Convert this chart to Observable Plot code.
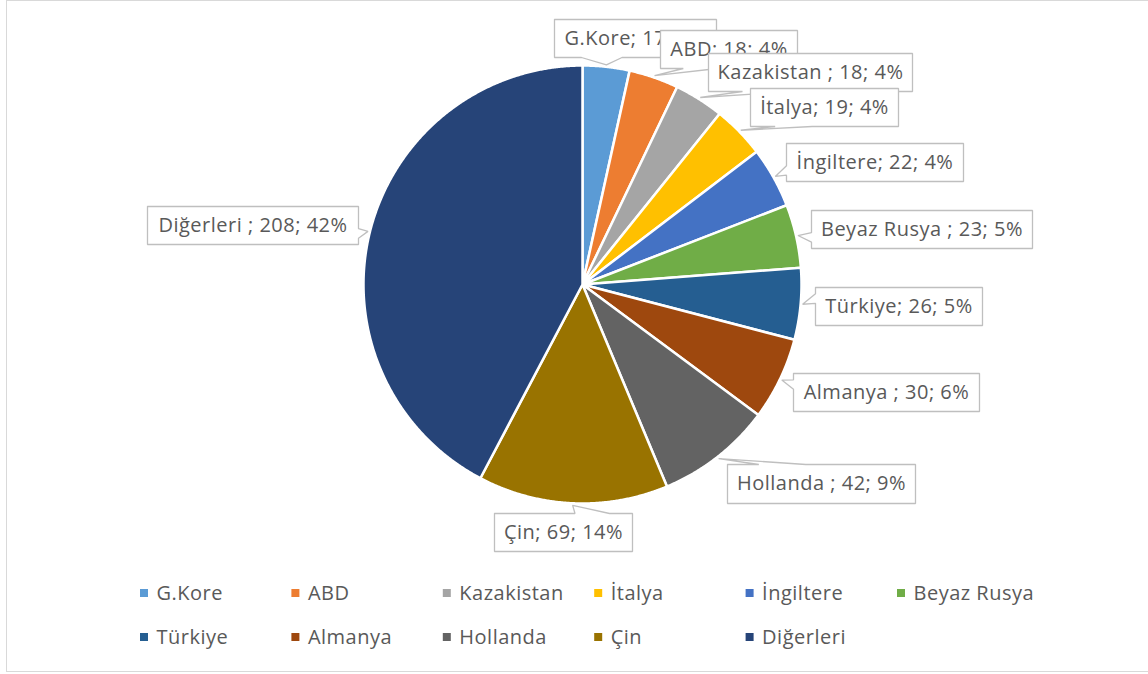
<!DOCTYPE html>
<html><head><meta charset="utf-8">
<script src="https://cdn.jsdelivr.net/npm/d3@7"></script>
<script src="https://cdn.jsdelivr.net/npm/@observablehq/plot@0.6"></script>
<style>
body{margin:0;background:#fff;}
#wrap{position:relative;width:1148px;height:674px;overflow:hidden;background:#fff;}
#frame{position:absolute;left:6px;top:0;width:1160px;height:672px;border:1px solid #d9d9d9;box-sizing:border-box;}
#chart{position:absolute;left:0;top:0;}
#chart text{letter-spacing:0.5px;}
</style></head><body>
<div id="wrap"><div id="frame"></div><div id="chart"></div></div>
<script>
// ---- data ----
const categories = ["G.Kore","ABD","Kazakistan ","İtalya","İngiltere","Beyaz Rusya ","Türkiye","Almanya ","Hollanda ","Çin","Diğerleri "];
const values = [17,18,18,19,22,23,26,30,42,69,208];
const colors = ["#5b9bd5","#ed7d31","#a5a5a5","#ffc000","#4472c4","#70ad47","#255e91","#9e480e","#636363","#997300","#264478"];

// ---- layout (label box x1,y1,x2,y2 in px) ----
const labelBoxes = [
  [554,19,716,57],[660,30,797,68],[708,53,912,91],[750,88,898,126],
  [786,143,963,181],[811,210,1032,248],[815,287,982,325],[793,373,979,411],
  [727,464,915,503],[494,513,632,551],[147,206,358,244]
];
const W = 1148, H = 674;
const cx = 582, cy = 284, R = 219;
const FONT = "'Open Sans', sans-serif";
const FS = 20;

const total = d3.sum(values);
const arcs = d3.pie().sort(null).value(d => d)(values);
const pt = (a, r) => [cx + r * Math.sin(a), cy - r * Math.cos(a)];

const slicePts = [];
arcs.forEach((a, i) => {
  const cat = categories[i];
  slicePts.push({cat, x: cx, y: cy});
  const n = Math.max(2, Math.ceil((a.endAngle - a.startAngle) / 0.005));
  for (let k = 0; k <= n; k++) {
    const t = a.startAngle + (a.endAngle - a.startAngle) * k / n;
    const [x, y] = pt(t, R);
    slicePts.push({cat, x, y});
  }
  slicePts.push({cat, x: cx, y: cy});
});

function callout(b, tip) {
  const [x1,y1,x2,y2] = b; const w = x2-x1, h = y2-y1, mx = (x1+x2)/2, my = (y1+y2)/2;
  const dx = (tip[0]-mx)/w, dy = (tip[1]-my)/h;
  let pts;
  if (Math.abs(dx) > Math.abs(dy)) {
    const ya = dy < 0 ? [y1+h*2/12, y1+h*5/12] : [y1+h*7/12, y1+h*10/12];
    if (dx < 0) pts = [[x1,y1],[x2,y1],[x2,y2],[x1,y2],[x1,ya[1]],tip,[x1,ya[0]],[x1,y1]];
    else pts = [[x1,y1],[x2,y1],[x2,ya[0]],tip,[x2,ya[1]],[x2,y2],[x1,y2],[x1,y1]];
  } else {
    const xa = dx < 0 ? [x1+w*2/12, x1+w*5/12] : [x1+w*7/12, x1+w*10/12];
    if (dy < 0) pts = [[x1,y1],[xa[0],y1],tip,[xa[1],y1],[x2,y1],[x2,y2],[x1,y2],[x1,y1]];
    else pts = [[x1,y1],[x2,y1],[x2,y2],[xa[1],y2],tip,[xa[0],y2],[x1,y2],[x1,y1]];
  }
  return pts.map(([x,y]) => ({x, y}));
}

const labelMarks = arcs.flatMap((a, i) => {
  const mid = (a.startAngle + a.endAngle) / 2;
  const tip = pt(mid, R + 2);
  const b = labelBoxes[i];
  const pct = Math.round(values[i] / total * 100);
  const txt = `${categories[i]}; ${values[i]}; ${pct}%`;
  return [
    Plot.line(callout(b, tip), {x: "x", y: "y", fill: "white", stroke: "#bfbfbf", strokeWidth: 1.3, strokeLinejoin: "miter"}),
    Plot.text([txt], {x: () => (b[0]+b[2])/2, y: () => (b[1]+b[3])/2, text: d => d, fill: "#595959", fontSize: FS, textAnchor: "middle", fontFamily: FONT})
  ];
});

const legendItems = categories.map((c, i) => ({cat: c, name: c.trim(), col: i % 6, row: Math.floor(i / 6)}));
const lgX = d => 140 + d.col * 151.4;
const lgY = d => 593 + d.row * 44;

const chart = Plot.plot({
  width: W, height: H, margin: 0,
  x: {domain: [0, W], range: [0, W], axis: null},
  y: {domain: [0, H], range: [0, H], axis: null},
  color: {domain: categories, range: colors},
  style: {background: "transparent", fontFamily: FONT},
  marks: [
    Plot.line(slicePts, {x: "x", y: "y", z: "cat", fill: "cat", stroke: "white", strokeWidth: 2.5, strokeLinejoin: "round"}),
    ...labelMarks,
    Plot.rect(legendItems, {x1: d => lgX(d), x2: d => lgX(d) + 8, y1: d => lgY(d) - 4, y2: d => lgY(d) + 4, fill: "cat"}),
    Plot.text(legendItems, {x: d => lgX(d) + 16, y: d => lgY(d), text: "name", fill: "#595959", fontSize: FS, textAnchor: "start", fontFamily: FONT})
  ]
});
document.getElementById("chart").appendChild(chart);
</script>
</body></html>
